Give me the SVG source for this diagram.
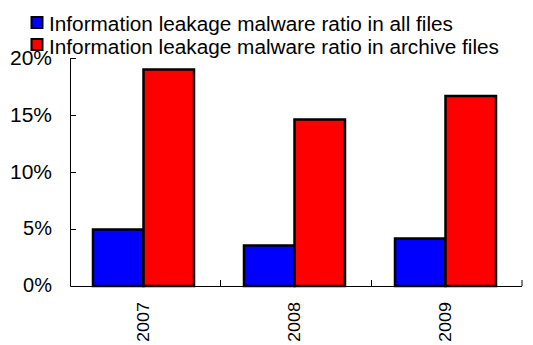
<svg xmlns="http://www.w3.org/2000/svg" width="533" height="345" viewBox="0 0 533 345">
<style>
text{font-family:"Liberation Sans",Arial,sans-serif;fill:#000}
.lg{font-size:20px}
.ax{font-size:20px;text-anchor:end}
.yr{font-size:17px;text-anchor:end}
.bar{stroke:#000;stroke-width:2.5}
.b{fill:#0000ff}
.r{fill:#ff0000}
.axis{stroke:#000;stroke-width:1;fill:none}
</style>
<rect width="533" height="345" fill="#fff"/>
<g id="legend">
<rect x="31.5" y="17" width="11" height="11" class="b" stroke="#000" stroke-width="2"/>
<text class="lg" x="49" y="31" textLength="404" lengthAdjust="spacingAndGlyphs">Information leakage malware ratio in all files</text>
<rect x="31.5" y="39" width="11" height="11" class="r" stroke="#000" stroke-width="2"/>
<text class="lg" x="49" y="54" textLength="450" lengthAdjust="spacingAndGlyphs">Information leakage malware ratio in archive files</text>
</g>
<g id="axes">
<path class="axis" d="M70.5 58V286.5H522M70.5 58.5H76M70.5 115.5H76M70.5 172.5H76M70.5 229.5H76M220.5 280V286M371.5 280V286M522 280V286"/>
<text class="ax" x="52" y="65" textLength="42" lengthAdjust="spacingAndGlyphs">20%</text>
<text class="ax" x="52" y="122" textLength="42" lengthAdjust="spacingAndGlyphs">15%</text>
<text class="ax" x="52" y="179" textLength="42" lengthAdjust="spacingAndGlyphs">10%</text>
<text class="ax" x="52" y="235">5%</text>
<text class="ax" x="52" y="292">0%</text>
</g>
<g id="bars-2007">
<rect class="bar b" x="93" y="229.5" width="50.5" height="56.5"/>
<rect class="bar r" x="143.5" y="69.5" width="50.5" height="216.5"/>
<text class="yr" transform="translate(148.5,302) rotate(-90)" textLength="40" lengthAdjust="spacingAndGlyphs">2007</text>
</g>
<g id="bars-2008">
<rect class="bar b" x="244" y="245.5" width="50.5" height="40.5"/>
<rect class="bar r" x="294.5" y="119.5" width="50.5" height="166.5"/>
<text class="yr" transform="translate(299.5,302) rotate(-90)" textLength="40" lengthAdjust="spacingAndGlyphs">2008</text>
</g>
<g id="bars-2009">
<rect class="bar b" x="395" y="238.5" width="50.5" height="47.5"/>
<rect class="bar r" x="445.5" y="96" width="50.5" height="190"/>
<text class="yr" transform="translate(450.5,302) rotate(-90)" textLength="40" lengthAdjust="spacingAndGlyphs">2009</text>
</g>
</svg>
